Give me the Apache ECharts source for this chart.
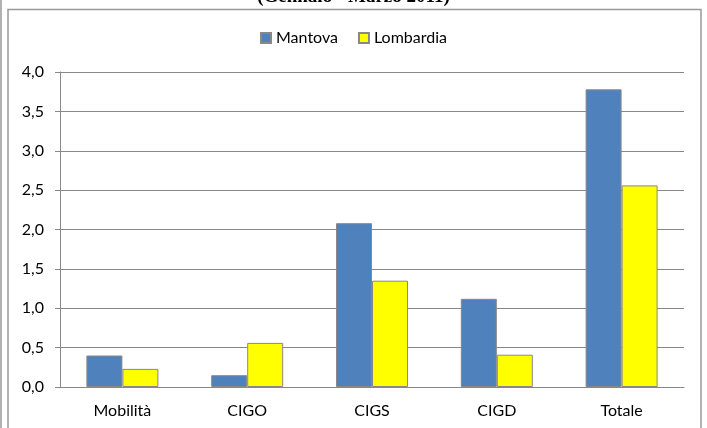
<!DOCTYPE html>
<html><head><meta charset="utf-8">
<script src="https://cdn.jsdelivr.net/npm/echarts@6/dist/echarts.min.js"></script>
<style>html,body{margin:0;padding:0;background:#fff}#c{width:707px;height:428px}</style>
</head><body><div id="c"></div>
<script>
const categories = ['Mobilità', 'CIGO', 'CIGS', 'CIGD', 'Totale'];
const mantova = [0.40, 0.15, 2.08, 1.12, 3.78];
const lombardia = [0.23, 0.56, 1.35, 0.41, 2.56];
const seriesNames = ['Mantova', 'Lombardia'];
const titleText = '(Gennaio - Marzo 2011)';

const FONT = 'Lato';
const chart = echarts.init(document.getElementById('c'), null, {renderer: 'canvas'});
chart.setOption({
  animation: false,
  backgroundColor: '#fff',
  title: {
    text: titleText, left: 'center', top: -17.5,
    textStyle: {fontFamily: 'Liberation Serif', fontWeight: 'bold', fontSize: 19, color: '#000'}
  },
  graphic: [
    {type: 'rect', shape: {x: 8, y: 9.5, width: 693, height: 440}, style: {fill: 'none', stroke: '#999', lineWidth: 1.5}, silent: true},
    {type: 'line', shape: {x1: 1, y1: 0, x2: 1, y2: 428}, style: {stroke: '#999', lineWidth: 1.5}, silent: true}
  ],
  legend: {
    data: seriesNames, left: 'center', top: 25,
    itemWidth: 10, itemHeight: 10, itemGap: 20,
    icon: 'rect',
    textStyle: {fontFamily: FONT, fontSize: 16, color: '#000'}
  },
  grid: {left: 60, right: 23, top: 72, bottom: 41, containLabel: false},
  xAxis: {
    type: 'category', data: categories,
    axisLine: {lineStyle: {color: '#888', width: 1}},
    axisTick: {show: false},
    axisLabel: {fontFamily: FONT, fontSize: 16, color: '#000', margin: 16}
  },
  yAxis: {
    type: 'value', min: 0, max: 4, interval: 0.5,
    axisLine: {show: true, lineStyle: {color: '#888', width: 1}},
    axisTick: {show: true, length: 5, lineStyle: {color: '#888'}},
    splitLine: {lineStyle: {color: '#888', width: 1}},
    axisLabel: {fontFamily: FONT, fontSize: 16, color: '#000', margin: 16,
      formatter: v => v.toFixed(1).replace('.', ',')}
  },
  series: [
    {name: seriesNames[0], type: 'bar', data: mantova, barWidth: 36, barGap: '0%',
     itemStyle: {color: '#4F81BD', borderColor: '#888', borderWidth: 1}},
    {name: seriesNames[1], type: 'bar', data: lombardia, barWidth: 36,
     itemStyle: {color: '#FFFF00', borderColor: '#888', borderWidth: 1}}
  ]
});
</script></body></html>
